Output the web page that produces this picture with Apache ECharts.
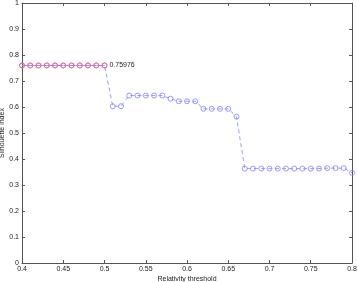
<!DOCTYPE html>
<html>
<head>
<meta charset="utf-8">
<script src="https://cdn.jsdelivr.net/npm/echarts@6/dist/echarts.min.js"></script>
<style>
  html, body { margin: 0; padding: 0; background: #fff; }
  #chart { width: 357px; height: 282px; }
</style>
</head>
<body>
<div id="chart"></div>
<script>
// relativity thresholds (x) and silhouette index (y)
const thresholds = [
  0.40, 0.41, 0.42, 0.43, 0.44, 0.45, 0.46, 0.47, 0.48, 0.49, 0.50,
  0.51, 0.52, 0.53, 0.54, 0.55, 0.56, 0.57, 0.58, 0.59, 0.60,
  0.61, 0.62, 0.63, 0.64, 0.65, 0.66, 0.67, 0.68, 0.69, 0.70,
  0.71, 0.72, 0.73, 0.74, 0.75, 0.76, 0.77, 0.78, 0.79, 0.80
];
const silhouette = [
  0.75976, 0.75976, 0.75976, 0.75976, 0.75976, 0.75976, 0.75976, 0.75976, 0.75976, 0.75976, 0.75976,
  0.603, 0.603, 0.644, 0.644, 0.644, 0.644, 0.644, 0.632, 0.622, 0.622,
  0.622, 0.593, 0.593, 0.593, 0.593, 0.563, 0.363, 0.363, 0.363, 0.363,
  0.363, 0.363, 0.363, 0.363, 0.363, 0.363, 0.365, 0.365, 0.365, 0.347
];
// the best points (highlighted in red)
const bestCount = 11;
const bestLabel = "0.75976";
const xTicks = { min: 0.4, max: 0.8, step: 0.05 };
const yTicks = { min: 0, max: 1, step: 0.1 };

const allPts = thresholds.map((t, i) => [t, silhouette[i]]);
const bestPts = allPts.slice(0, bestCount);

const axisCol = "#555";
const txtCol = "#222";
const font = "Liberation Sans, Arial, sans-serif";
const fmt = v => String(+v.toFixed(2));

function xAx(pos, showLabel) {
  return {
    type: "value", position: pos,
    min: xTicks.min, max: xTicks.max, interval: xTicks.step,
    name: showLabel ? "Relativity threshold" : "",
    nameLocation: "middle", nameGap: 13, nameMoveOverlap: false,
    nameTextStyle: { color: txtCol, fontSize: 7, fontFamily: font },
    axisLine: { show: true, onZero: false, lineStyle: { color: axisCol, width: 1 } },
    axisTick: { show: true, inside: true, length: 3, lineStyle: { color: axisCol } },
    axisLabel: { show: showLabel, color: txtCol, fontSize: 7, fontFamily: font, margin: 3, formatter: fmt },
    splitLine: { show: false }
  };
}
function yAx(pos, showLabel) {
  return {
    type: "value", position: pos,
    min: yTicks.min, max: yTicks.max, interval: yTicks.step,
    name: showLabel ? "Silhouette index" : "",
    nameLocation: "middle", nameGap: 16, nameMoveOverlap: false,
    nameTextStyle: { color: txtCol, fontSize: 7, fontFamily: font },
    axisLine: { show: true, onZero: false, lineStyle: { color: axisCol, width: 1 } },
    axisTick: { show: true, inside: true, length: 3, lineStyle: { color: axisCol } },
    axisLabel: { show: showLabel, color: txtCol, fontSize: 7, fontFamily: font, margin: 3, formatter: fmt },
    splitLine: { show: false }
  };
}

const chart = echarts.init(document.getElementById("chart"), null, { renderer: "canvas" });
chart.setOption({
  animation: false,
  backgroundColor: "#fff",
  grid: { left: 22, right: 5, top: 3, bottom: 19, containLabel: false, outerBoundsMode: "none" },
  xAxis: [xAx("bottom", true), xAx("top", false)],
  yAxis: [yAx("left", true), yAx("right", false)],
  series: [
    {
      type: "line",
      data: allPts,
      symbol: "circle",
      symbolSize: 5,
      clip: false,
      lineStyle: { color: "#8080ff", width: 0.8, type: [4, 3] },
      itemStyle: { color: "rgba(255,255,255,0)", borderColor: "#8080ff", borderWidth: 0.8 }
    },
    {
      type: "line",
      data: bestPts,
      symbol: "circle",
      symbolSize: 5,
      clip: false,
      lineStyle: { color: "#c070e0", width: 0.8 },
      itemStyle: { color: "rgba(255,255,255,0)", borderColor: "#ff6060", borderWidth: 0.8 },
      label: {
        show: true, position: "right", distance: 2,
        color: txtCol, fontSize: 7, fontFamily: font,
        formatter: p => (p.dataIndex === bestCount - 1 ? bestLabel : "")
      }
    }
  ]
});
</script>
</body>
</html>
